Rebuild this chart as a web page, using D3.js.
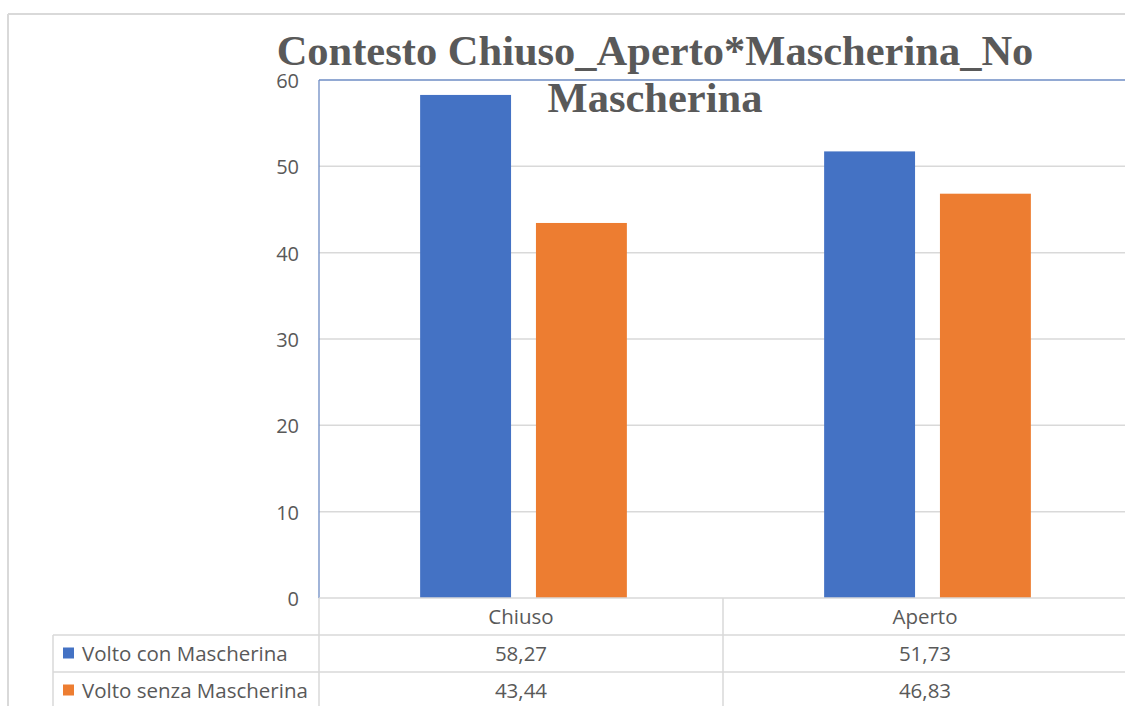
<!DOCTYPE html>
<html>
<head>
<meta charset="utf-8">
<script src="https://cdn.jsdelivr.net/npm/d3@7"></script>
<style>
  html, body { margin: 0; padding: 0; background: #fff; }
  svg { display: block; }
</style>
</head>
<body>
<svg id="chart" width="1125" height="706"></svg>
<script>
// Chart data
const categories = ["Chiuso", "Aperto"];
const seriesNames = ["Volto con Mascherina", "Volto senza Mascherina"];
const withMask = [58.27, 51.73];
const withoutMask = [43.44, 46.83];
const yTicks = [0, 10, 20, 30, 40, 50, 60];
const titleLines = ["Contesto Chiuso_Aperto*Mascherina_No", "Mascherina"];

const series = [
  { name: seriesNames[0], values: withMask, color: "#4472C4" },
  { name: seriesNames[1], values: withoutMask, color: "#ED7D31" }
];

const fmt = v => v.toFixed(2).replace(".", ",");

const W = 1125, H = 706;
const plot = { left: 319, right: 1127, top: 80, bottom: 598 };
const table = { left: 53, rowH: 37 };
const textColor = "#595959";
const gridColor = "#D9D9D9";
const labelFont = "'Open Sans', 'Liberation Sans', sans-serif";

const svg = d3.select("#chart");

// Outer chart frame
svg.append("line").attr("x1", 8).attr("x2", W).attr("y1", 14).attr("y2", 14)
  .attr("stroke", "#D9D9D9").attr("stroke-width", 2);
svg.append("line").attr("x1", 8).attr("x2", 8).attr("y1", 14).attr("y2", H)
  .attr("stroke", "#D9D9D9").attr("stroke-width", 2);

// Scales
const x = d3.scaleBand().domain(categories).range([plot.left, plot.right]);
const xSeries = d3.scaleBand().domain(seriesNames)
  .range([5, x.bandwidth()]).paddingInner(0.215).paddingOuter(0.83);
const y = d3.scaleLinear().domain([0, 60]).range([plot.bottom, plot.top]);

// Gridlines
svg.append("g").selectAll("line").data(yTicks.filter(t => t > 0 && t < 60)).join("line")
  .attr("x1", plot.left).attr("x2", W)
  .attr("y1", d => y(d)).attr("y2", d => y(d))
  .attr("stroke", gridColor).attr("stroke-width", 1.5);

// Plot-area border (top and left)
svg.append("line").attr("x1", plot.left).attr("x2", W).attr("y1", y(60)).attr("y2", y(60))
  .attr("stroke", "#6E8CC4").attr("stroke-width", 1.3);
svg.append("line").attr("x1", plot.left).attr("x2", plot.left).attr("y1", y(60)).attr("y2", plot.bottom)
  .attr("stroke", "#6E8CC4").attr("stroke-width", 1.3);

// Y axis labels
const yAxis = d3.axisLeft(y).tickValues(yTicks).tickSize(0).tickPadding(0);
const gy = svg.append("g").attr("transform", `translate(299,1)`).call(yAxis);
gy.select(".domain").remove();
gy.selectAll("text")
  .attr("fill", textColor)
  .style("font-family", labelFont)
  .style("font-size", "20px");

// Bars
series.forEach(s => {
  svg.append("g").selectAll("rect").data(categories).join("rect")
    .attr("x", c => x(c) + xSeries(s.name))
    .attr("width", xSeries.bandwidth())
    .attr("y", (c, i) => y(s.values[i]))
    .attr("height", (c, i) => y(0) - y(s.values[i]))
    .attr("fill", s.color);
});

// Data table grid
const rowY = [plot.bottom, plot.bottom + table.rowH, plot.bottom + 2 * table.rowH, plot.bottom + 3 * table.rowH];
const tl = svg.append("g").attr("stroke", gridColor).attr("stroke-width", 1.5);
tl.append("line").attr("x1", plot.left).attr("x2", W).attr("y1", rowY[0]).attr("y2", rowY[0]);
tl.append("line").attr("x1", table.left).attr("x2", W).attr("y1", rowY[1]).attr("y2", rowY[1]);
tl.append("line").attr("x1", table.left).attr("x2", W).attr("y1", rowY[2]).attr("y2", rowY[2]);
tl.append("line").attr("x1", table.left).attr("x2", W).attr("y1", rowY[3]).attr("y2", rowY[3]);
tl.append("line").attr("x1", table.left).attr("x2", table.left).attr("y1", rowY[1]).attr("y2", H);
tl.append("line").attr("x1", plot.left).attr("x2", plot.left).attr("y1", rowY[0]).attr("y2", H);
categories.slice(1).forEach(c => {
  tl.append("line").attr("x1", x(c)).attr("x2", x(c)).attr("y1", rowY[0]).attr("y2", H);
});

// Category header row
svg.append("g").selectAll("text").data(categories).join("text")
  .attr("x", c => x(c) + x.bandwidth() / 2)
  .attr("y", (rowY[0] + rowY[1]) / 2)
  .attr("dy", "0.35em")
  .attr("text-anchor", "middle")
  .attr("fill", textColor)
  .style("font-family", labelFont).style("font-size", "20.5px")
  .text(c => c);

// Series rows: legend key, name, values
series.forEach((s, si) => {
  const cy = (rowY[si + 1] + rowY[si + 2]) / 2;
  svg.append("rect").attr("x", 63).attr("y", cy - 6).attr("width", 11).attr("height", 11)
    .attr("fill", s.color);
  svg.append("text").attr("x", 82).attr("y", cy).attr("dy", "0.35em")
    .attr("fill", textColor)
    .style("font-family", labelFont).style("font-size", "20.5px")
    .text(s.name);
  svg.append("g").selectAll("text").data(categories).join("text")
    .attr("x", c => x(c) + x.bandwidth() / 2)
    .attr("y", cy).attr("dy", "0.35em")
    .attr("text-anchor", "middle")
    .attr("fill", textColor)
    .style("font-family", labelFont).style("font-size", "20.5px")
    .text((c, i) => fmt(s.values[i]));
});

// Title
svg.append("g").selectAll("text").data(titleLines).join("text")
  .attr("x", 655)
  .attr("y", (d, i) => 65 + i * 47)
  .attr("text-anchor", "middle")
  .attr("fill", textColor)
  .style("font-family", "'Liberation Serif', 'Times New Roman', serif")
  .style("font-weight", "bold")
  .style("font-size", "42.5px")
  .text(d => d);
</script>
</body>
</html>
